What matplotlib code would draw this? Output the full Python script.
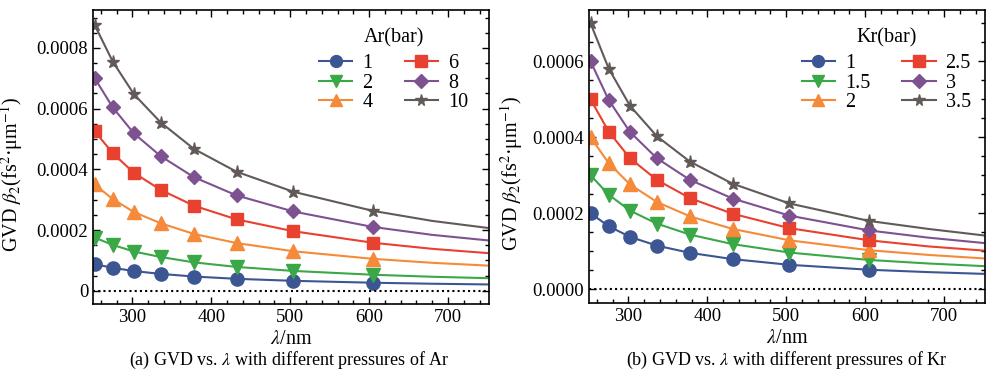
import numpy as np
import matplotlib
matplotlib.use("Agg")
import matplotlib.pyplot as plt
from matplotlib.ticker import MultipleLocator, FuncFormatter

plt.rcParams['font.family'] = ['Liberation Serif', 'DejaVu Serif']
plt.rcParams['mathtext.fontset'] = 'stix'

# wavelength (nm): marker points + two extra points for the line tail
lam = [252, 275, 302, 336, 378, 432, 504, 605, 680, 750]
n_mark = 8

# Ar, GVD in units of 1e-5 fs^2/um
ar_labels = ['1', '2', '4', '6', '8', '10']
ar_1 = [8.76, 7.55, 6.47, 5.54, 4.67, 3.92, 3.26, 2.63, 2.30, 2.07]
ar_2 = [17.5, 15.1, 12.9, 11.1, 9.34, 7.84, 6.52, 5.26, 4.60, 4.14]
ar_4 = [35.0, 30.2, 25.9, 22.2, 18.7, 15.7, 13.0, 10.5, 9.20, 8.28]
ar_6 = [52.6, 45.3, 38.8, 33.2, 28.0, 23.5, 19.6, 15.8, 13.8, 12.4]
ar_8 = [70.1, 60.4, 51.8, 44.3, 37.4, 31.4, 26.1, 21.0, 18.4, 16.6]
ar_10 = [87.6, 75.5, 64.7, 55.4, 46.7, 39.2, 32.6, 26.3, 23.0, 20.7]

# Kr
kr_labels = ['1', '1.5', '2', '2.5', '3', '3.5']
kr_1 = [20.0, 16.6, 13.8, 11.5, 9.60, 7.95, 6.45, 5.15, 4.53, 4.07]
kr_15 = [30.0, 24.9, 20.7, 17.3, 14.4, 11.9, 9.68, 7.73, 6.80, 6.11]
kr_2 = [40.0, 33.2, 27.6, 23.0, 19.2, 15.9, 12.9, 10.3, 9.06, 8.14]
kr_25 = [50.0, 41.5, 34.5, 28.8, 24.0, 19.9, 16.1, 12.9, 11.3, 10.2]
kr_3 = [60.0, 49.8, 41.4, 34.5, 28.8, 23.9, 19.4, 15.5, 13.6, 12.2]
kr_35 = [70.0, 58.1, 48.3, 40.3, 33.6, 27.8, 22.6, 18.0, 15.9, 14.2]

colors = ['#3b5692', '#3aa847', '#f58b3a', '#e8412f', '#7e5191', '#625a58']
markers = ['o', 'v', '^', 's', 'D', '*']
msizes = [9.5, 9.5, 9.5, 9, 7.5, 9.5]

fig = plt.figure(figsize=(10, 3.77), dpi=100)
ax1 = fig.add_axes([0.093, 0.1936, 0.396, 0.780])
ax2 = fig.add_axes([0.589, 0.1963, 0.396, 0.777])


def draw(ax, series, labels, title, ylim, fmt0, ylab_x, leg_x):
    for i, ys in enumerate(series):
        ax.plot(lam, np.array(ys) * 1e-5, color=colors[i], lw=1.5,
                marker=markers[i], ms=msizes[i], mec=colors[i],
                markevery=list(range(n_mark)), label=labels[i])
    ax.axhline(0, color='k', lw=1.5, ls=(0, (1, 1.5)))
    ax.set_xlim(250, 752)
    ax.set_ylim(*ylim)
    ax.xaxis.set_major_locator(MultipleLocator(100))
    ax.xaxis.set_minor_locator(MultipleLocator(20))
    ax.yaxis.set_major_locator(MultipleLocator(0.0002))
    ax.yaxis.set_minor_locator(MultipleLocator(0.00005))
    ax.yaxis.set_major_formatter(FuncFormatter(fmt0))
    ax.tick_params(which='both', direction='in', top=True, right=True,
                   labelsize=13.5, width=1)
    ax.tick_params(which='major', length=5)
    ax.tick_params(which='minor', length=3)
    for s in ax.spines.values():
        s.set_linewidth(1.2)
    ax.set_xlabel('$\\lambda$/nm', fontsize=14.5, labelpad=3)
    ax.set_ylabel('GVD $\\beta_2$(fs$^2$·μm$^{-1}$)', fontsize=14.5)
    ax.yaxis.set_label_coords(ylab_x, 0.442)
    leg = ax.legend(ncol=2, title=title, frameon=False, fontsize=14.5,
                    title_fontsize=14.5, loc='upper right',
                    bbox_to_anchor=(leg_x, 1.0), markerscale=0.9,
                    handlelength=1.65, labelspacing=0.02, columnspacing=1.6,
                    handletextpad=0.5)
    leg._legend_box.sep = 5


draw(ax1, [ar_1, ar_2, ar_4, ar_6, ar_8, ar_10], ar_labels, 'Ar(bar)',
     (-0.0000438, 0.000925),
     lambda v, p: '0' if abs(v) < 1e-12 else '%.4f' % v, -0.172, 0.993)
draw(ax2, [kr_1, kr_15, kr_2, kr_25, kr_3, kr_35], kr_labels, 'Kr(bar)',
     (-0.000036, 0.000735),
     lambda v, p: '%.4f' % abs(v) if abs(v) < 1e-12 else '%.4f' % v,
     -0.162, 1.01)

fig.text(0.289, 0.045, '(a) GVD vs. $\\lambda$ with different pressures of Ar',
         ha='center', va='center', fontsize=13)
fig.text(0.787, 0.045, '(b) GVD vs. $\\lambda$ with different pressures of Kr',
         ha='center', va='center', fontsize=13)

fig.savefig('out.png', dpi=100)
